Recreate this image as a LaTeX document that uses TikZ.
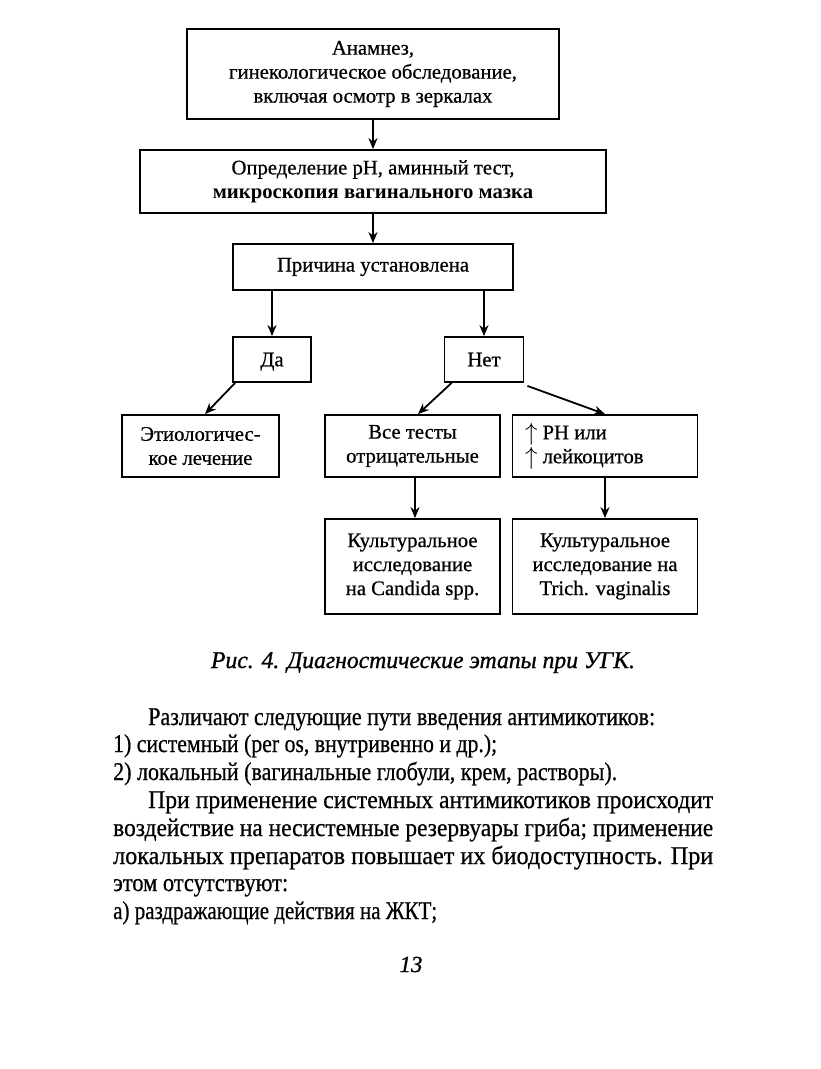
\documentclass[tikz,border=0pt]{standalone}
\usepackage{fontspec}
\setmainfont{Liberation Serif}[UprightFeatures={FakeBold=0.6},ItalicFeatures={FakeBold=0.9}]
\usetikzlibrary{arrows.meta,calc}
\newcommand{\fitw}[2]{\resizebox{#1}{\height}{#2}}
\newcommand{\upar}{\raisebox{-1pt}{\fontsize{23}{24}\selectfont$\uparrow$}}
\begin{document}
\begin{tikzpicture}[x=1pt,y=-1pt,
  box/.style={draw,line width=1.8pt,inner sep=0pt,align=center,font=\fontsize{20.7}{24}\selectfont},
  arr/.style={line width=1.8pt,-{Stealth[length=11pt,width=9pt]}},
  body/.style={anchor=base west,inner sep=0pt,font=\fontsize{25.5}{28}\selectfont}]
\useasboundingbox[fill=white] (0,0) rectangle (821,1069);
\node[box,minimum width=372pt,minimum height=90pt] (b1) at (373,74) {Анамнез,\\гинекологическое обследование,\\включая осмотр в зеркалах};
\node[box,minimum width=466pt,minimum height=63pt] (b2) at (373,181.5) {Определение pH, аминный тест,\\\textbf{микроскопия вагинального мазка}};
\node[box,minimum width=280pt,minimum height=46pt] (b3) at (373,267) {Причина установлена};
\node[box,minimum width=78pt,minimum height=45pt,text depth=0pt] (da) at (272,359.5) {Да};
\node[box,minimum width=79pt,minimum height=45pt,text depth=0pt] (net) at (484,359.5) {Нет};
\node[box,minimum width=157pt,minimum height=62pt] (et) at (200.5,446) {Этиологичес-\\кое лечение};
\node[box,minimum width=175pt,minimum height=62pt] (vse) at (412.5,446) {Все тесты\\отрицательные};
\node[box,minimum width=185pt,minimum height=62pt,align=left] (ph) at (605,446) {\makebox[160pt][l]{\upar\ PH или}\\\upar\ лейкоцитов};
\node[box,minimum width=175pt,minimum height=95pt] (k1) at (412.5,566.5) {Культуральное\\исследование\\на Candida spp.};
\node[box,minimum width=185pt,minimum height=95pt] (k2) at (605,566.5) {Культуральное\\исследование на\\Trich. vaginalis};
\draw[arr] (b1.south) -- (b2.north);
\draw[arr] (b2.south) -- (b3.north);
\draw[arr] (da.north |- b3.south) -- (da.north);
\draw[arr] (net.north |- b3.south) -- (net.north);
\draw[arr] ($(da.south west)+(3,0)$) -- (et.north -| 205,0);
\draw[arr] ($(net.south west)+(8,0)$) -- (vse.north -| 418,0);
\draw[arr] ($(net.south east)+(3,3)$) -- (ph.north);
\draw[arr] (vse.south -| 415,0) -- (k1.north -| 415,0);
\draw[arr] (ph.south) -- (k2.north);
\node[anchor=base,inner sep=0pt,font=\fontsize{24}{26}\selectfont\itshape] (cap) at (423,668) {\fitw{424pt}{Рис. 4. Диагностические этапы при УГК.}};
\node[body] (l1) at (148,725) {\fitw{507pt}{Различают следующие пути введения антимикотиков:}};
\node[body] (l2) at (113,752) {\fitw{384pt}{1) системный (per os, внутривенно и др.);}};
\node[body] (l3) at (113,780) {\fitw{504pt}{2) локальный (вагинальные глобули, крем, растворы).}};
\node[body] (l4) at (148,808) {\fitw{565pt}{При применение системных антимикотиков происходит}};
\node[body] (l5) at (113,836) {\fitw{600pt}{воздействие на несистемные резервуары гриба; применение}};
\node[body] (l6) at (113,864) {\fitw{600pt}{локальных препаратов повышает их биодоступность. При}};
\node[body] (l7) at (113,891) {\fitw{175pt}{этом отсутствуют:}};
\node[body] (l8) at (113,919) {\fitw{324pt}{а) раздражающие действия на ЖКТ;}};
\node[anchor=base,inner sep=0pt,font=\fontsize{23}{26}\selectfont\itshape] (pg) at (411,972) {13};
\end{tikzpicture}
\end{document}
